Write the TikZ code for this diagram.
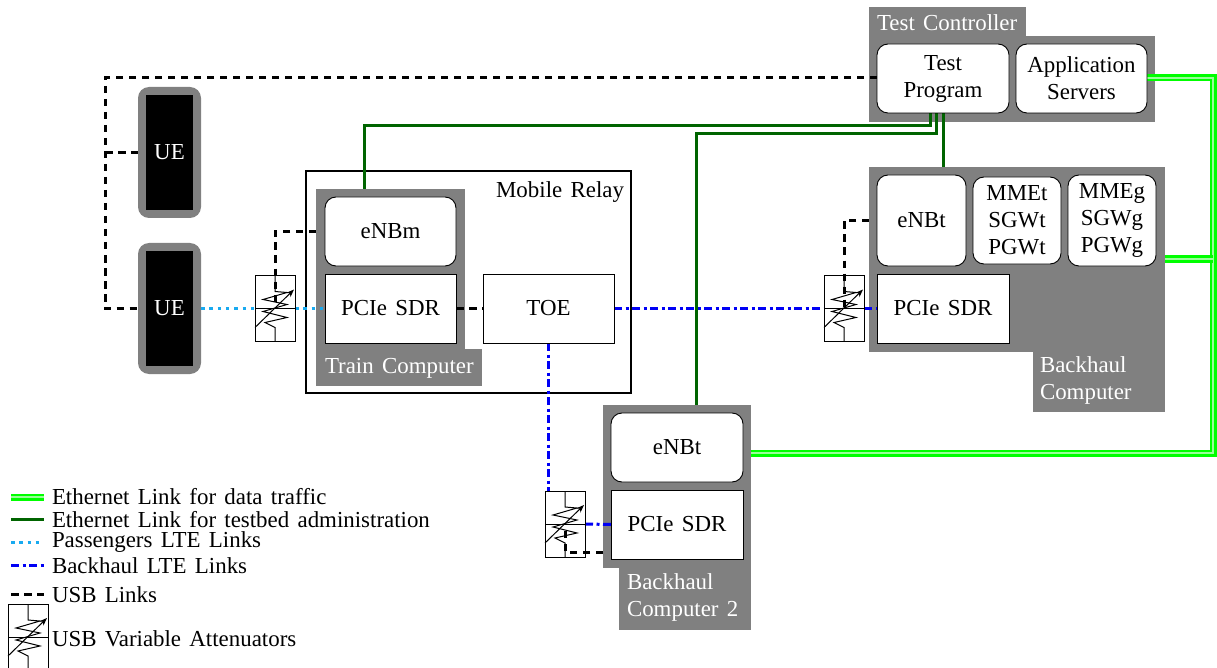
\documentclass[tikz,border=0pt]{standalone}
\usepackage{fontspec}
\setmainfont[WordSpace=1.45]{Liberation Serif}
\usetikzlibrary{arrows.meta}
\pgfdeclarelayer{backlayer}
\pgfdeclarelayer{midlayer}
\pgfsetlayers{backlayer,midlayer,main}
\definecolor{grayfill}{RGB}{128,128,128}
\definecolor{ethdata}{RGB}{0,255,0}
\definecolor{ethadmin}{RGB}{0,100,0}
\definecolor{ltepass}{RGB}{25,170,240}
\definecolor{ltebh}{RGB}{0,0,245}
\tikzset{
  base/.style={inner sep=0pt,outer sep=0pt,align=center,font=\fontsize{22.9}{27}\selectfont},
  graybox/.style={base,fill=grayfill,text=white},
  plainbox/.style={base,draw=black,line width=0.9pt,fill=white},
  roundbox/.style={plainbox,rounded corners=11pt},
  uebox/.style={base,fill=grayfill,rounded corners=11pt},
  uecore/.style={base,fill=black,text=white},
  relaybox/.style={base,draw=black,line width=1.3pt},
  free/.style={base},
  attbox/.style={base,draw=black,line width=0.9pt},
  attline/.style={black,line width=1pt},
  usb/.style={black,line width=3pt,dash pattern=on 7.5pt off 5.5pt},
  admin/.style={ethadmin,line width=3pt},
  data/.style={ethdata,line width=2.6pt,double=white!60!ethdata,double distance=1.8pt},
  pass/.style={ltepass,line width=3pt,dash pattern=on 3.5pt off 4.8pt},
  bhlink/.style={ltebh,line width=3pt,dash pattern=on 8pt off 3.5pt on 3pt off 3.5pt},
}
\newcommand{\bx}[7][]{\node[#1,minimum width={(#4-#2)*1pt},minimum height={(#5-#3)*1pt}] (#6) at ({(#2+#4)/2},{(#3+#5)/2}) {#7};}
\newcommand{\attn}[3]{%
  \node[attbox,minimum width=40pt,minimum height=66pt] (#1) at (#2,#3) {};
  \begin{scope}[shift={(#2,#3)}]
    \draw[attline] (-20,0) -- (20,0);
    \draw[attline] (0,-33) -- (0,-17) -- (12,-16) -- (-12,-9) -- (12,-4) -- (-12,3) -- (12,9) -- (-10,14) -- (0,19) -- (0,33);
    \draw[attline,-{Stealth[length=8pt,width=6pt]}] (-20,19) -- (19,-19);
  \end{scope}}
\begin{document}
\begin{tikzpicture}[x=1pt,y=-1pt]
\useasboundingbox (0,0) rectangle (1217,668);
\clip (0,0) rectangle (1217,668);
\begin{pgfonlayer}{backlayer}
  \fill[white] (0,0) rectangle (1217,668);
  \bx[relaybox]{306}{171}{631}{393}{relay}{}
  \bx[graybox]{869}{7}{1026}{37}{tclabel}{}
  \bx[graybox]{869}{36}{1155}{122}{tc}{}
  \bx[graybox]{316}{189}{465}{350}{train}{}
  \bx[graybox]{316}{349}{482}{386}{trainlabel}{}
  \bx[graybox]{869}{167}{1165}{352}{bh}{}
  \bx[graybox]{1033}{351}{1165}{412}{bhlabel}{}
  \bx[graybox]{603}{405}{751}{568}{bhtwo}{}
  \bx[graybox]{619}{567}{751}{630}{bhtwolabel}{}
  \bx[uebox]{138}{87}{201}{218}{ueone}{}
  \bx[uebox]{138}{243}{201}{374}{uetwo}{}
\end{pgfonlayer}
\node[free,text=white,anchor=base west] (tctext) at (877,31) {Test Controller};
\node[free,text=white,anchor=base west] (traintext) at (325,373) {Train Computer};
\node[free,text=white,anchor=base west,align=left] (bhtext) at (1040,399) {Backhaul\\Computer};
\node[free,text=white,anchor=base west,align=left] (bhtwotext) at (627,616) {Backhaul\\Computer 2};
\node[free,anchor=base east] (relaytext) at (624,198) {Mobile Relay};
\bx[uecore]{146}{95}{193}{210}{ueonecore}{UE}
\bx[uecore]{146}{251}{193}{366}{uetwocore}{UE}
\bx[roundbox]{877}{44}{1009}{113}{tp}{Test\\Program}
\bx[roundbox]{1016}{44}{1147}{113}{app}{Application\\Servers}
\bx[roundbox]{325}{197}{456}{266}{enbm}{eNBm}
\bx[plainbox]{325}{274}{456}{343}{pcm}{PCIe SDR}
\bx[plainbox]{483}{274}{614}{343}{toe}{TOE}
\bx[roundbox]{877}{175}{966}{266}{enbt}{eNBt}
\bx[roundbox]{973}{177}{1061}{264}{mmet}{MMEt\\SGWt\\PGWt}
\bx[roundbox]{1068}{175}{1156}{266}{mmeg}{MMEg\\SGWg\\PGWg}
\bx[plainbox]{877}{274}{1009}{343}{pcb}{PCIe SDR}
\bx[roundbox]{611}{413}{743}{482}{enbtwo}{eNBt}
\bx[plainbox]{611}{490}{743}{559}{pctwo}{PCIe SDR}
\attn{atta}{275}{308.5}
\attn{attb}{844}{308.5}
\attn{attc}{565}{524}
\attn{attl}{28}{637}
\coordinate (busa) at (105,78);
\coordinate (busb) at (1213,78);
\node[free,anchor=base west] (la) at (52,504) {Ethernet Link for data traffic};
\node[free,anchor=base west] (lb) at (52,527) {Ethernet Link for testbed administration};
\node[free,anchor=base west] (lc) at (52,547) {Passengers LTE Links};
\node[free,anchor=base west] (ld) at (52,573) {Backhaul LTE Links};
\node[free,anchor=base west] (le) at (52,602) {USB Links};
\node[free,anchor=base west] (lf) at (52,646) {USB Variable Attenuators};
\coordinate (lax) at (11,497); \coordinate (lay) at (44,497);
\coordinate (lbx) at (11,519); \coordinate (lby) at (44,519);
\coordinate (lcx) at (11,542); \coordinate (lcy) at (44,542);
\coordinate (ldx) at (11,565); \coordinate (ldy) at (44,565);
\coordinate (lex) at (11,594); \coordinate (ley) at (44,594);
\begin{pgfonlayer}{midlayer}
  \draw[usb] (tp.west |- busa) -- (busa) -- (busa |- uetwo.west) -- (uetwo.west);
  \draw[usb] (busa |- ueone.west) -- (ueone.west);
  \draw[usb] (pcm.east) -- (toe.west);
  \draw[usb] (train.west |- enbm.west) -| (atta.center);
  \draw[usb] (bh.west |- enbt.west) -| (attb.center);
  \draw[usb] (bhtwo.west |- 0,552) -| (attc.center);
  \draw[admin] ([xshift=-13pt]tp.south) -- ++(0,13) -| ([xshift=-26pt]train.north);
  \draw[admin] ([xshift=-7pt]tp.south) -- ++(0,21) -| ([xshift=19pt]bhtwo.north);
  \draw[admin] (tp.south) -- (tp.south |- bh.north);
  \draw[pass] (uetwo.east) -- (atta.west);
  \draw[pass] (atta.east) -- (pcm.west);
  \draw[bhlink] (toe.east) -- (attb.west);
  \draw[bhlink] (attb.east) -- (pcb.west);
  \draw[bhlink] (toe.south) -- (toe.south |- attc.north);
  \draw[bhlink] (attc.east) -- (pctwo.west);
  \draw[data] (app.east |- busb) -- (busb) -- (busb |- 0,453) -- (bhtwo.east |- 0,453);
  \draw[data] (bh.east |- 0,259) -- (busb |- 0,259);
  \draw[data] (lax) -- (lay);
  \draw[admin] (lbx) -- (lby);
  \draw[pass] (lcx) -- (lcy);
  \draw[bhlink] (ldx) -- (ldy);
  \draw[usb] (lex) -- (ley);
\end{pgfonlayer}
\end{tikzpicture}
\end{document}
